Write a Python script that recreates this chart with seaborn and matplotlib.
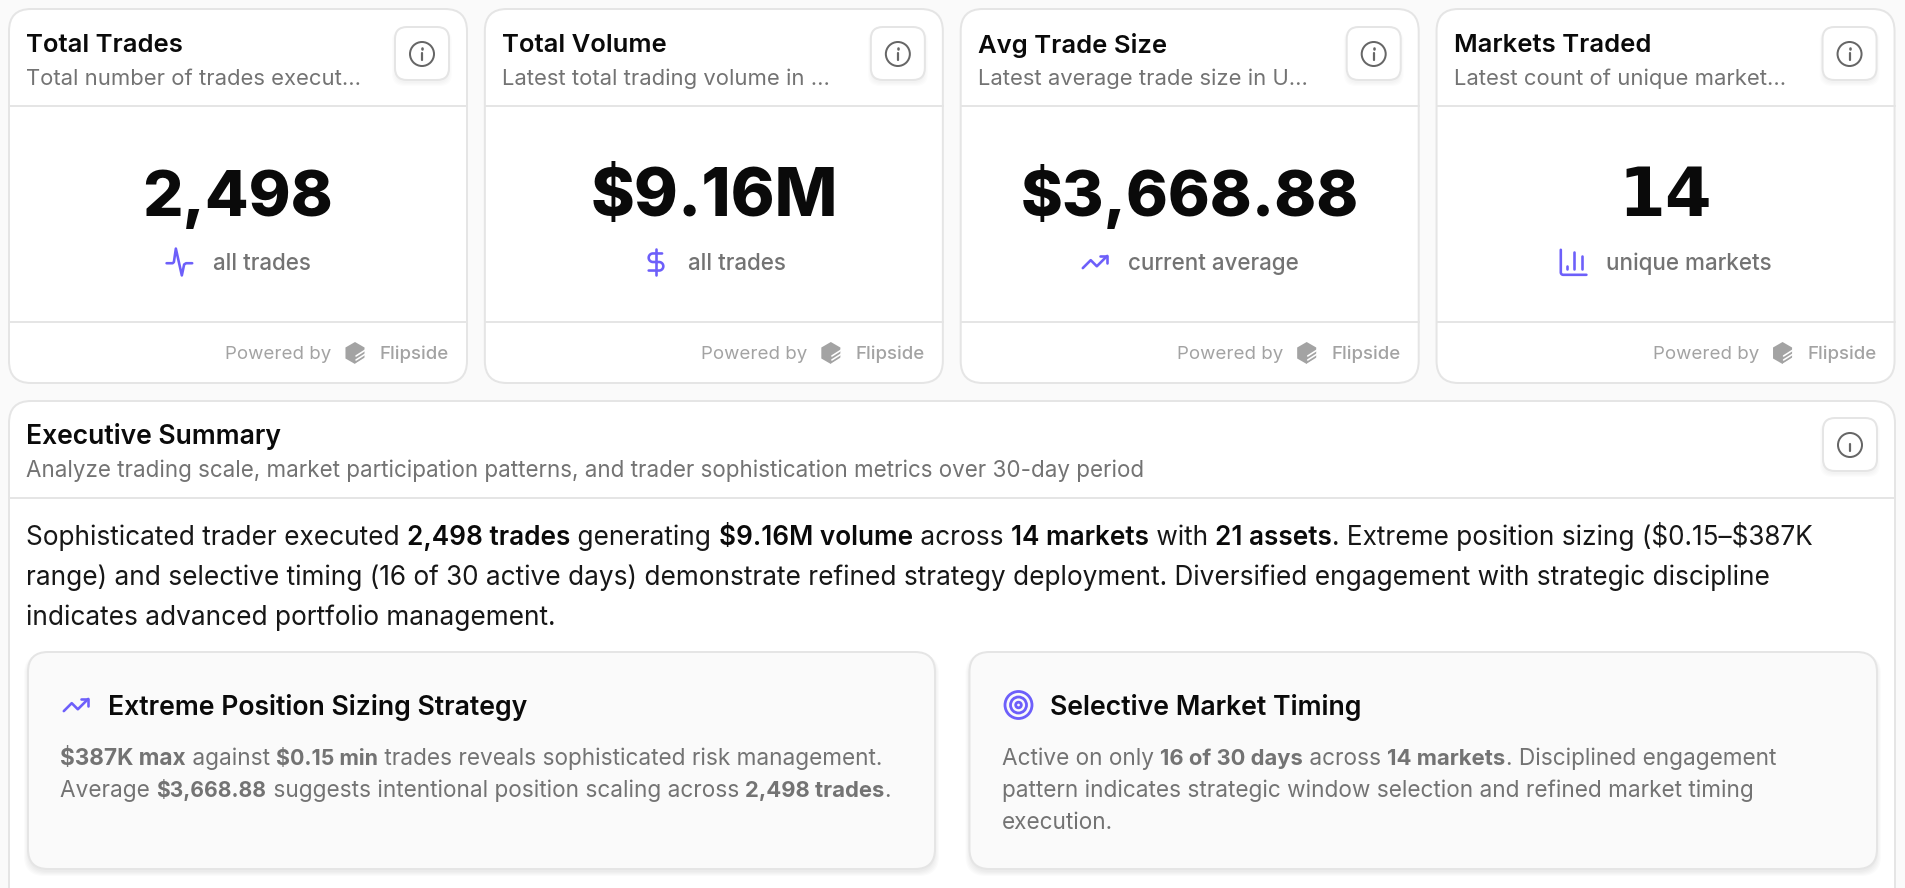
import numpy as np
import matplotlib
matplotlib.use("Agg")
import matplotlib.pyplot as plt
from matplotlib.patches import FancyBboxPatch, Circle, Polygon
import seaborn as sns

card_titles = ["Total Trades", "Total Volume", "Avg Trade Size", "Markets Traded"]
card_subtitles = ["Total number of trades execut…", "Latest total trading volume in …",
                  "Latest average trade size in U…", "Latest count of unique market…"]
card_values = ["2,498", "$9.16M", "$3,668.88", "14"]
card_labels = ["all trades", "all trades", "current average", "unique markets"]
card_icons = ["activity", "dollar", "trend", "bars"]
summary_title = "Executive Summary"
summary_subtitle = "Analyze trading scale, market participation patterns, and trader sophistication metrics over 30-day period"
summary_lines = [
    [("Sophisticated trader executed ", 0), ("2,498 trades", 1), (" generating ", 0), ("$9.16M volume", 1),
     (" across ", 0), ("14 markets", 1), (" with ", 0), ("21 assets", 1),
     (". Extreme position sizing ($0.15–$387K", 0)],
    [("range) and selective timing (16 of 30 active days) demonstrate refined strategy deployment. Diversified engagement with strategic discipline", 0)],
    [("indicates advanced portfolio management.", 0)],
]
left_title = "Extreme Position Sizing Strategy"
left_lines = [
    [("$387K max", 1), (" against ", 0), ("$0.15 min", 1), (" trades reveals sophisticated risk management.", 0)],
    [("Average ", 0), ("$3,668.88", 1), (" suggests intentional position scaling across ", 0), ("2,498 trades", 1), (".", 0)],
]
right_title = "Selective Market Timing"
right_lines = [
    [("Active on only ", 0), ("16 of 30 days", 1), (" across ", 0), ("14 markets", 1), (". Disciplined engagement", 0)],
    [("pattern indicates strategic window selection and refined market timing", 0)],
    [("execution.", 0)],
]
powered_text, brand_text = "Powered by", "Flipside"

BG, BORDER, INK, GREY, LIGHT, PURPLE = "#fafafa", "#e5e5e5", "#0a0a0a", "#737373", "#a3a3a3", "#6d5ffa"
FONT = "Inter"

sns.set_theme(style="white")
plt.rcParams["font.family"] = [FONT, "DejaVu Sans"]
fig = plt.figure(figsize=(19.06, 8.88), dpi=100, facecolor=BG)
ax = fig.add_axes([0, 0, 1, 1])
ax.set_xlim(0, 1906)
ax.set_ylim(888, 0)
ax.axis("off")
sns.despine(ax=ax, left=True, bottom=True)
renderer = fig.canvas.get_renderer()
PX = 0.72
# the reference's numerals set tighter than Inter's
RUN_SCALE = {"$0.15 min": 0.945, "$3,668.88": 0.93, "2,498 trades": 0.975, "16 of 30 days": 0.97, "14 markets": 0.98}


def put(x, y, s, **kw):
    return ax.text(x, y, s, parse_math=False, zorder=6, **kw)


def width(s, size, weight):
    t = ax.text(0, 0, "|" + s + "|", fontsize=size, fontweight=weight, parse_math=False)
    a = t.get_window_extent(renderer).width
    t.set_text("||")
    b = t.get_window_extent(renderer).width
    t.remove()
    return a - b


def fit(s, target, weight):
    return 20 * target / width(s, 20, weight)


def box(x0, y0, x1, y1, r, fc="white", ec=BORDER, lw=2, shadow=0, alpha=0.03, z=2):
    for i in range(shadow, 0, -1):
        ax.add_patch(FancyBboxPatch((x0 - i + 1, y0 + 2), x1 - x0 + 2 * i - 2, y1 - y0 + i,
                                    boxstyle=f"round,pad=0,rounding_size={r}",
                                    fc="#000000", ec="none", alpha=alpha, zorder=z))
    ax.add_patch(FancyBboxPatch((x0, y0), x1 - x0, y1 - y0, boxstyle=f"round,pad=0,rounding_size={r}",
                                fc=fc, ec=ec, lw=lw * PX, zorder=z + 0.5))


def runs(x, y, parts, size, color, bold_color=None, regular=400, bold=600, scaled=False):
    for s, b in parts:
        w = bold if b else regular
        sz = size * (RUN_SCALE.get(s, 1) if scaled and b else 1)
        put(x, y, s, fontsize=sz, color=(bold_color if b else color), fontweight=w, va="baseline", ha="left")
        x += width(s, sz, w)


def arc(cx, cy, r, a0, a1, n=24):
    t = np.radians(np.linspace(a0, a1, n))
    return np.c_[cx + r * np.cos(t), cy + r * np.sin(t)]


def stroke(cx, cy, pts, scale=1.22, color=PURPLE, lw=2.6):
    p = (np.asarray(pts, float) - 12) * scale + [cx, cy]
    ax.plot(p[:, 0], p[:, 1], color=color, lw=lw * PX, solid_capstyle="round", solid_joinstyle="round", zorder=6)


def icon(kind, cx, cy):
    if kind == "activity":
        stroke(cx, cy, [(1, 13), (6, 13), (7, 12), (8.6, 1), (13.5, 23), (15.4, 14), (17, 13), (22, 13)])
    elif kind == "dollar":
        stroke(cx, cy, [(12, 1), (12, 23)])
        stroke(cx, cy, np.vstack([[(17, 5)], arc(9.5, 8.5, 3.5, 270, 90), arc(14.5, 15.5, 3.5, -90, 90), [(6, 19)]]))
    elif kind == "trend":
        stroke(cx, cy, [(22, 7), (13.5, 15.5), (8.5, 10.5), (2, 17)])
        stroke(cx, cy, [(16, 7), (22, 7), (22, 13)])
    elif kind == "bars":
        stroke(cx, cy, np.vstack([[(2, 2)], arc(4, 20.5, 2, 180, 90), [(23, 22.5)]]))
        stroke(cx, cy, [(7, 15), (7, 18)])
        stroke(cx, cy, [(13, 3.5), (13, 18)])
        stroke(cx, cy, [(19, 7), (19, 18)])


def info(x0, y0):
    box(x0, y0, x0 + 54, y0 + 53, 12, shadow=4, alpha=0.011, z=4)
    cx, cy = x0 + 27, y0 + 27
    ax.add_patch(Circle((cx, cy), 12, fc="none", ec="#666666", lw=2 * PX, zorder=6))
    ax.plot([cx, cx], [cy - 1, cy + 6], color="#666666", lw=2.2 * PX, solid_capstyle="round", zorder=6)
    ax.plot([cx, cx], [cy - 5.5, cy - 5.2], color="#666666", lw=2.6 * PX, solid_capstyle="round", zorder=6)


def logo(cx, cy):
    a = np.radians(np.arange(6) * 60 + 30)
    hexa = np.c_[cx + 11 * np.cos(a), cy + 11 * np.sin(a)]
    ax.add_patch(Polygon(hexa, fc=LIGHT, ec="none", zorder=6))
    for d in (-1, 3, 7):
        ax.plot([cx + 1, cx + 12], [cy + d + 4, cy + d - 3], color="white", lw=1.6 * PX, zorder=7)


title_size = fit(card_titles[0], 157, 600)
sub_size = fit(card_subtitles[0], 334, 400)
value_targets = [191, 248, 339, None]
label_size = fit(card_labels[0], 98, 500)
pow_size = fit(powered_text, 106, 400)
brand_size = fit(brand_text, 69, 500)
sum_title_size = fit(summary_title, 255, 600)
sum_sub_size = fit(summary_subtitle, 1117, 400)
body_size = fit(summary_lines[1][0][0], 1741, 400)
panel_title_size = fit(left_title, 420, 600)
panel_text_size = fit(right_lines[1][0][0], 751, 400)

label_x = [213, 688, 1128, 1606]
icon_x = [180, 656, 1095, 1573]
for i in range(4):
    dx = i * 475.85
    x0, x1 = 9 + dx, 467 + dx
    box(x0, 9, x1, 383, 22)
    ax.plot([x0, x1], [106, 106], color=BORDER, lw=2 * PX, zorder=3)
    ax.plot([x0, x1], [322, 322], color=BORDER, lw=2 * PX, zorder=3)
    put(x0 + 17, 52.5, card_titles[i], fontsize=title_size, fontweight=600, color=INK)
    put(x0 + 17, 85, card_subtitles[i], fontsize=sub_size, fontweight=400, color=GREY)
    info(x0 + 386, 27)
    if value_targets[i]:
        put((x0 + x1) / 2, 216, card_values[i], fontsize=fit(card_values[i], value_targets[i], 800),
            fontweight=800, color=INK, ha="center")
    else:
        # the reference's 1 has a foot, as DejaVu Sans Bold's does
        put((x0 + x1) / 2, 216, card_values[i], fontsize=48.5, fontweight=700, color=INK, ha="center",
            family="DejaVu Sans")
    put(label_x[i], 270, card_labels[i], fontsize=label_size, fontweight=500, color=GREY)
    icon(card_icons[i], icon_x[i], 262)
    put(x0 + 216, 359, powered_text, fontsize=pow_size, color=LIGHT)
    logo(x0 + 346, 353)
    put(x1 - 18, 359, brand_text, fontsize=brand_size, fontweight=500, color=LIGHT, ha="right")

box(9, 401, 1895, 940, 22)
ax.plot([9, 1895], [498, 498], color=BORDER, lw=2 * PX, zorder=3)
put(26, 444, summary_title, fontsize=sum_title_size, fontweight=600, color=INK)
put(26, 477, summary_subtitle, fontsize=sum_sub_size, color=GREY)
info(1823, 418)
for y, line in zip((545, 585, 625), summary_lines):
    runs(26, y, line, body_size, "#171717", INK)

box(28, 652, 935, 869, 20, fc=BG, shadow=5, alpha=0.016, z=4)
box(969.5, 652, 1877, 869, 20, fc=BG, shadow=5, alpha=0.016, z=4)
icon("trend", 76, 705)
put(108, 714.5, left_title, fontsize=panel_title_size, fontweight=600, color=INK)
for y, line in zip((765, 797), left_lines):
    runs(60.5, y, line, panel_text_size, GREY, GREY, bold=700, scaled=True)
cx, cy = 1018.5, 705
for r in (13.5, 8, 2.8):
    ax.add_patch(Circle((cx, cy), r, fc="none", ec=PURPLE, lw=2.8 * PX, zorder=6))
put(1050.5, 714.5, right_title, fontsize=panel_title_size, fontweight=600, color=INK)
for y, line in zip((765, 797, 829), right_lines):
    runs(1002, y, line, panel_text_size, GREY, GREY, bold=700, scaled=True)

fig.savefig("out.png", dpi=100, facecolor=BG)
